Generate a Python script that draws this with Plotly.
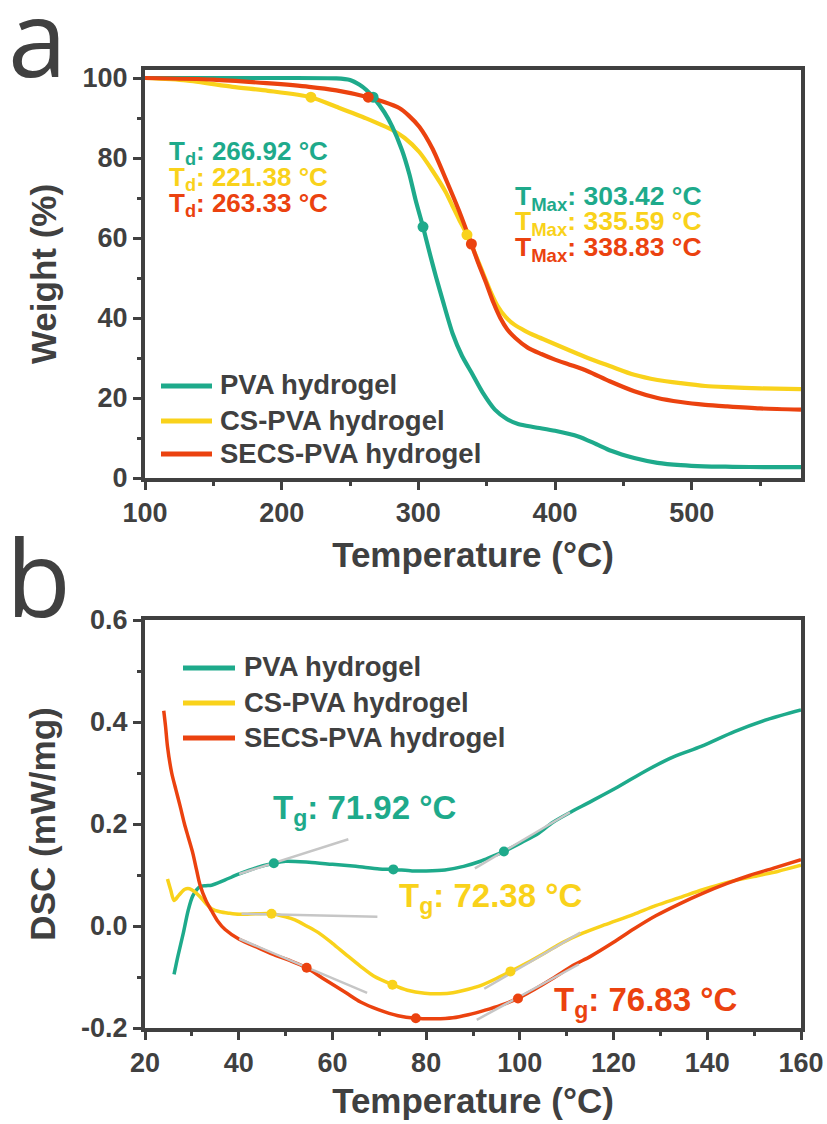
import plotly.graph_objects as go

W, H = 827, 1124

# ---------------- Panel a: TGA ----------------
tga_T_pva = [100, 150, 200, 240, 250, 257, 262, 266.92, 275, 281, 288, 293.4, 298, 303.42, 308, 313, 318,
             325, 332, 339, 347, 356, 365, 373, 385, 400, 417, 430, 441, 458, 475, 492, 509, 530, 555, 580]
tga_W_pva = [100, 100, 100, 99.9, 99.5, 98.3, 97, 95.2, 91.5, 87.8, 82, 76, 69.5, 62.8, 56.6, 50.2, 44.2,
             36.2, 30.5, 26.3, 21.4, 17.1, 14.7, 13.5, 12.7, 11.8, 10.4, 8.5, 6.8, 5, 3.8, 3.2, 2.9, 2.8, 2.7, 2.7]

tga_T_cs = [100, 130, 164, 190, 221.38, 240, 261.8, 281, 290, 300.7, 310, 320, 325, 330, 335.59, 341, 347,
            353, 358, 364, 370, 378, 386, 395, 410, 424, 440, 458, 475, 492, 510, 526, 550, 580]
tga_W_cs = [100, 99.4, 97.8, 96.8, 95.2, 92.8, 89.9, 87, 85, 81.5, 77, 71.5, 68, 64.5, 60.8, 56.5, 51.5,
            46.5, 43, 40.2, 38.4, 36.8, 35.5, 34.2, 32, 30, 28, 25.8, 24.5, 23.7, 23, 22.7, 22.4, 22.2]

tga_T_secs = [100, 150, 189, 220, 240, 263.33, 275, 286, 293, 300.7, 310.4, 320, 330, 338.83, 344, 350, 355,
              360, 365, 371, 380, 390, 400, 412, 424, 440, 458, 475, 492, 510, 526, 550, 580]
tga_W_secs = [100, 99.6, 98.7, 97.8, 96.9, 95.2, 94, 92.5, 90.6, 87.8, 82.3, 74.8, 66.6, 58.5, 53.6, 48.4, 43.8,
              40, 37.2, 35, 32.6, 31, 29.6, 28.2, 26.7, 24.2, 21.7, 20, 19, 18.3, 17.9, 17.4, 17.1]

# characteristic points (Td, TMax)
pts_T_pva = [266.92, 303.42]
pts_W_pva = [95.2, 62.8]
pts_T_cs = [221.38, 335.59]
pts_W_cs = [95.2, 60.8]
pts_T_secs = [263.33, 338.83]
pts_W_secs = [95.2, 58.5]

tga_xticks = [100, 200, 300, 400, 500]
tga_yticks = [0, 20, 40, 60, 80, 100]

# ---------------- Panel b: DSC ----------------
dsc_T_pva = [26.2, 27, 28.2, 29.2, 30.2, 31.7, 33, 34.2, 37, 40.1, 44, 47.5, 50, 55, 60, 65, 70, 73, 77,
             80, 84, 88, 91.6, 94, 96.6, 100, 104, 107, 111, 114.5, 120.8, 127.2, 132.9, 138.7, 145.8,
             152.9, 160]
dsc_V_pva = [-0.095, -0.06, -0.013, 0.03, 0.059, 0.077, 0.079, 0.080, 0.09, 0.102, 0.115, 0.123, 0.127,
             0.125, 0.121, 0.117, 0.112, 0.111, 0.108, 0.108, 0.110, 0.117, 0.127, 0.136, 0.146, 0.162,
             0.182, 0.203, 0.224, 0.241, 0.272, 0.306, 0.332, 0.352, 0.381, 0.405, 0.4235]

dsc_T_cs = [24.8, 25.5, 26.2, 27.2, 28.5, 29.5, 30.5, 31.7, 33, 34.2, 36, 38, 40.1, 44, 47, 50, 52, 54.5,
            57, 60, 62.9, 66, 68.8, 72.8, 76, 79.7, 83, 85.7, 89, 91.6, 95, 98, 102, 105.5, 109, 113.4,
            118, 124.3, 129, 134.2, 139, 144.1, 151, 155, 160]
dsc_V_cs = [0.092, 0.07, 0.05, 0.06, 0.072, 0.073, 0.068, 0.058, 0.044, 0.034, 0.028, 0.025, 0.023,
            0.024, 0.024, 0.018, 0.012, 0.0, -0.013, -0.034, -0.056, -0.079, -0.098, -0.115, -0.126,
            -0.132, -0.133, -0.131, -0.124, -0.117, -0.103, -0.089, -0.07, -0.052, -0.033, -0.014,
            0.002, 0.023, 0.04, 0.056, 0.071, 0.085, 0.099, 0.107, 0.119]

dsc_T_secs = [24, 24.4, 24.8, 25.7, 26.6, 27.5, 28.4, 29.2, 30.2, 31, 31.7, 33, 34.2, 35.5, 37.1, 40.1,
              44, 48, 51, 54.5, 58, 62.9, 66, 69.8, 74, 77.8, 82, 85.7, 89, 92.6, 96, 99.6, 103, 107,
              111.4, 115, 120, 124.3, 129, 134.2, 139, 144.1, 149, 154, 160]
dsc_V_secs = [0.422, 0.39, 0.352, 0.30, 0.267, 0.235, 0.201, 0.175, 0.143, 0.11, 0.082, 0.05, 0.03,
              0.01, -0.007, -0.026, -0.042, -0.058, -0.068, -0.082, -0.103, -0.131, -0.149, -0.164,
              -0.176, -0.181, -0.182, -0.180, -0.174, -0.165, -0.155, -0.142, -0.125, -0.103, -0.077,
              -0.06, -0.032, -0.006, 0.02, 0.044, 0.064, 0.083, 0.099, 0.113, 0.13]

# Tg construction points (onset, Tg, endset)
tg_T_pva = [47.5, 73.0, 96.6]
tg_V_pva = [0.123, 0.111, 0.146]
tg_T_cs = [47.0, 72.8, 98.0]
tg_V_cs = [0.024, -0.115, -0.089]
tg_T_secs = [54.5, 77.8, 99.6]
tg_V_secs = [-0.082, -0.181, -0.142]

# tangent lines (two segments per curve: [x0, x1], [y0, y1])
tan_pva = [([40.1, 63.4], [0.102, 0.170]), ([90.4, 110.7], [0.113, 0.223])]
tan_cs = [([40.6, 69.6], [0.024, 0.018]), ([92.4, 112.9], [-0.123, -0.013])]
tan_secs = [([40.1, 67.4], [-0.025, -0.131]), ([90.8, 112.6], [-0.184, -0.075])]

dsc_xticks = [20, 40, 60, 80, 100, 120, 140, 160]
dsc_yticks = [-0.2, 0.0, 0.2, 0.4, 0.6]
dsc_yticktext = ["-0.2", "0.0", "0.2", "0.4", "0.6"]

series_names = ["PVA hydrogel", "CS-PVA hydrogel", "SECS-PVA hydrogel"]

# ---------------- styling ----------------
C_PVA = '#1EAA8B'
C_CS = '#F9D21B'
C_SECS = '#EB420F'
DARK = '#404040'
GRAY = '#C6C6C6'
FONT = 'Liberation Sans, Arial, sans-serif'


def fx(px):
    return px / W


def fy(py):
    return 1 - py / H


fig = go.Figure()

# Panel a curves (order: yellow, teal, red)
for T, Wt, c in [(tga_T_cs, tga_W_cs, C_CS), (tga_T_pva, tga_W_pva, C_PVA), (tga_T_secs, tga_W_secs, C_SECS)]:
    fig.add_trace(go.Scatter(x=T, y=Wt, mode='lines', line=dict(color=c, width=4.2, shape='spline', smoothing=0.7),
                             xaxis='x', yaxis='y', showlegend=False, hoverinfo='skip'))
for T, Wt, c in [(pts_T_cs, pts_W_cs, C_CS), (pts_T_pva, pts_W_pva, C_PVA), (pts_T_secs, pts_W_secs, C_SECS)]:
    fig.add_trace(go.Scatter(x=T, y=Wt, mode='markers', marker=dict(color=c, size=11),
                             xaxis='x', yaxis='y', showlegend=False, hoverinfo='skip'))

# Panel b curves
for T, V, c in [(dsc_T_pva, dsc_V_pva, C_PVA), (dsc_T_cs, dsc_V_cs, C_CS), (dsc_T_secs, dsc_V_secs, C_SECS)]:
    fig.add_trace(go.Scatter(x=T, y=V, mode='lines', line=dict(color=c, width=3.5, shape='spline', smoothing=0.8),
                             xaxis='x2', yaxis='y2', showlegend=False, hoverinfo='skip'))
for segs in [tan_pva, tan_cs, tan_secs]:
    for xs, ys in segs:
        fig.add_trace(go.Scatter(x=xs, y=ys, mode='lines', line=dict(color=GRAY, width=2.5),
                                 xaxis='x2', yaxis='y2', showlegend=False, hoverinfo='skip'))
for T, V, c in [(tg_T_pva, tg_V_pva, C_PVA), (tg_T_cs, tg_V_cs, C_CS), (tg_T_secs, tg_V_secs, C_SECS)]:
    fig.add_trace(go.Scatter(x=T, y=V, mode='markers', marker=dict(color=c, size=10),
                             xaxis='x2', yaxis='y2', showlegend=False, hoverinfo='skip'))

tickfont = dict(family=FONT, size=27, color=DARK, weight='bold')
titlefont = dict(family=FONT, size=35, color=DARK, weight='bold')
axis_common = dict(showline=True, linewidth=4, linecolor=DARK, mirror=True, ticks='outside', ticklen=8,
                   tickwidth=3, tickcolor=DARK, showgrid=False, zeroline=False, tickfont=tickfont,
                   automargin=False)

xdom = [fx(145), fx(801)]
fig.update_layout(
    width=W, height=H, margin=dict(l=0, r=0, t=0, b=0),
    paper_bgcolor='white', plot_bgcolor='white', showlegend=False,
    xaxis=dict(domain=xdom, range=[100, 580], tickvals=tga_xticks, anchor='y',
               minor=dict(ticks='outside', ticklen=4, tickwidth=2.5, tickcolor=DARK, dtick=50, tick0=100),
               title=dict(text='Temperature (°C)', font=titlefont, standoff=16), **axis_common),
    yaxis=dict(domain=[fy(478), fy(70)], range=[0, 102], tickvals=tga_yticks, anchor='x',
               minor=dict(ticks='outside', ticklen=4, tickwidth=2.5, tickcolor=DARK, dtick=10, tick0=0),
               title=dict(text='Weight (%)', font=titlefont, standoff=16), **axis_common),
    xaxis2=dict(domain=xdom, range=[20, 160], tickvals=dsc_xticks, anchor='y2',
                minor=dict(ticks='outside', ticklen=4, tickwidth=2.5, tickcolor=DARK, dtick=10, tick0=20),
                title=dict(text='Temperature (°C)', font=titlefont, standoff=12), **axis_common),
    yaxis2=dict(domain=[fy(1028), fy(620)], range=[-0.2, 0.6], tickvals=dsc_yticks, ticktext=dsc_yticktext,
                anchor='x2',
                minor=dict(ticks='outside', ticklen=4, tickwidth=2.5, tickcolor=DARK, dtick=0.1, tick0=0),
                title=dict(text='DSC (mW/mg)', font=titlefont, standoff=16), **axis_common),
)

annots = []


def txt(text, x, y, size, color, xanchor='left', yanchor='middle', weight='bold', family=FONT):
    annots.append(dict(text=text, x=fx(x), y=fy(y), xref='paper', yref='paper', showarrow=False,
                       xanchor=xanchor, yanchor=yanchor, align='left',
                       font=dict(family=family, size=size, color=color, weight=weight)))


# panel letters
txt('a', 6, 36, 106, DARK, weight='normal', family='Open Sans, sans-serif')
txt('b', 4, 576, 106, DARK, weight='normal', family='Open Sans, sans-serif')

# Td / TMax annotations
td_vals = ["266.92", "221.38", "263.33"]
tmax_vals = ["303.42", "335.59", "338.83"]
cols = [C_PVA, C_CS, C_SECS]
for i, (v, c) in enumerate(zip(td_vals, cols)):
    txt(f'T<sub>d</sub>: {v} °C', 167, 152 + 26.3 * i, 26, c)
for i, (v, c) in enumerate(zip(tmax_vals, cols)):
    txt(f'T<sub>Max</sub>: {v} °C', 513, 198 + 25.5 * i, 26.5, c)

# Tg annotations
txt('T<sub>g</sub>: 71.92 °C', 271, 810, 33, C_PVA)
txt('T<sub>g</sub>: 72.38 °C', 397, 898, 33, C_CS)
txt('T<sub>g</sub>: 76.83 °C', 552, 1002, 33, C_SECS)

# legends (manual)
shapes = []
for (lx0, lx1, tx, rows) in [(161, 212, 218, [385, 420, 453]), (183, 235, 242, [667, 702, 737])]:
    for name, c, ry in zip(series_names, cols, rows):
        shapes.append(dict(type='line', xref='paper', yref='paper', x0=fx(lx0), x1=fx(lx1),
                           y0=fy(ry + 1), y1=fy(ry + 1), line=dict(color=c, width=5)))
        txt(name, tx, ry, 27.5, DARK)

fig.update_layout(annotations=annots, shapes=shapes)
fig.write_html('out.html')
